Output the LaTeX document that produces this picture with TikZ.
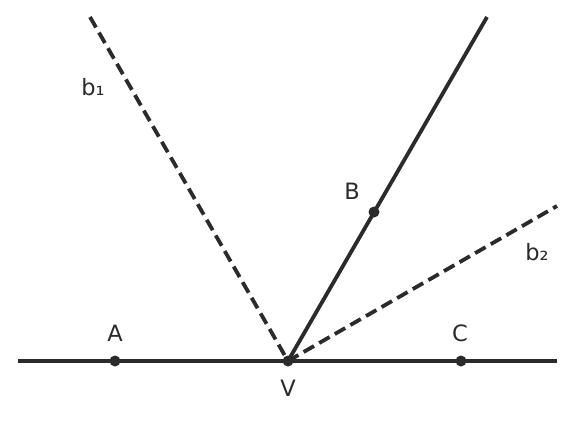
\documentclass[tikz,border=0pt]{standalone}
\usepackage{fontspec}
\setmainfont{DejaVu Sans}
\begin{document}
\begin{tikzpicture}[x=1pt,y=-1pt,
  ink/.style={draw=linec,line width=3.8pt},
  bis/.style={draw=linec,line width=3.8pt,dash pattern=on 12pt off 6pt},
  pt/.style={circle,fill=linec,inner sep=0pt,minimum size=11pt},
  lbl/.style={text=linec,font=\fontsize{22.5}{26}\selectfont,inner sep=0pt}]
\definecolor{linec}{HTML}{2B2B2B}
\useasboundingbox (0,0) rectangle (576,434);
\fill[white] (0,0) rectangle (576,434);
\coordinate (L) at (18,361);
\coordinate (R) at (557,361);
\coordinate (V) at (288,361);
\coordinate (T) at (487,17);
\coordinate (P1) at (90,17);
\coordinate (P2) at (557,206);
\draw[ink] (L) -- (R);
\draw[ink] (V) -- (T);
\draw[bis] (P1) -- (V);
\draw[bis] (V) -- (P2);
\node[pt] (A) at (115,361) {};
\node[pt] (C) at (461,361) {};
\node[pt] (B) at (374,212) {};
\node[pt] (Vd) at (V) {};
\node[lbl] (lA) at (115,333) {A};
\node[lbl] (lC) at (460,333) {C};
\node[lbl] (lB) at (352,191) {B};
\node[lbl] (lV) at (288,388) {V};
\node[lbl] (lb1) at (93,87) {b₁};
\node[lbl] (lb2) at (537,252) {b₂};
\end{tikzpicture}
\end{document}
